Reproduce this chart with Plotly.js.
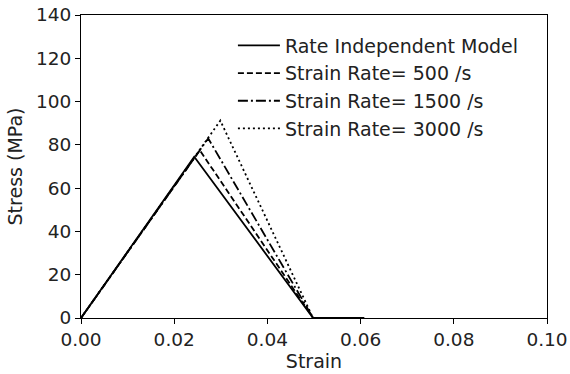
<!DOCTYPE html>
<html>
<head>
<meta charset="utf-8">
<script src="https://cdn.plot.ly/plotly-3.0.1.min.js"></script>
<style>body{margin:0;padding:0;background:#fff}#chart{width:570px;height:374px}</style>
</head>
<body>
<div id="chart"></div>
<script>
const seriesNames = ["Rate Independent Model", "Strain Rate= 500 /s", "Strain Rate= 1500 /s", "Strain Rate= 3000 /s"];
const strainRI = [0, 0.0243, 0.0498, 0.0608];
const stressRI = [0, 74.5, 0, 0];
const strain500 = [0, 0.0255, 0.0498];
const stress500 = [0, 77.5, 0];
const strain1500 = [0, 0.0273, 0.0498];
const stress1500 = [0, 83, 0];
const strain3000 = [0, 0.0299, 0.0498];
const stress3000 = [0, 91.2, 0];
const xTicks = [0, 0.02, 0.04, 0.06, 0.08, 0.10];
const xTickLabels = ["0.00", "0.02", "0.04", "0.06", "0.08", "0.10"];
const yTicks = [0, 20, 40, 60, 80, 100, 120, 140];

const FONT = "DejaVu Sans, Verdana, sans-serif";
const dashes = ["solid", "6px,3px", "10px,3px,2px,3px", "2px,3px"];
const xs = [strainRI, strain500, strain1500, strain3000];
const ys = [stressRI, stress500, stress1500, stress3000];
const traces = seriesNames.map((n, i) => ({
  x: xs[i], y: ys[i], name: n, mode: "lines", type: "scatter",
  line: {color: "#000", width: 1.8, dash: dashes[i]}
}));

const layout = {
  width: 570, height: 374,
  margin: {l: 81, r: 23, t: 15, b: 56},
  paper_bgcolor: "#fff", plot_bgcolor: "#fff",
  font: {family: FONT, size: 18.5, color: "#222"},
  showlegend: true,
  legend: {x: 0.326, y: 0.962, xanchor: "left", yanchor: "top", itemwidth: 42, tracegroupgap: 0, bgcolor: "rgba(0,0,0,0)", borderwidth: 0, font: {family: FONT, size: 19, color: "#222"}},
  xaxis: {
    range: [0, 0.10], tickvals: xTicks, ticktext: xTickLabels,
    showgrid: false, zeroline: false, showline: true, linecolor: "#000", linewidth: 1, mirror: true,
    ticks: "outside", ticklen: 5, tickcolor: "#000",
    tickfont: {family: FONT, size: 18.5, color: "#222"},
    title: {text: "Strain", font: {family: FONT, size: 19, color: "#222"}, standoff: 4}
  },
  yaxis: {
    range: [0, 140], tickvals: yTicks,
    showgrid: false, zeroline: false, showline: true, linecolor: "#000", linewidth: 1, mirror: true,
    ticks: "outside", ticklen: 5, tickcolor: "#000",
    tickfont: {family: FONT, size: 18.5, color: "#222"},
    title: {text: "Stress (MPa)", font: {family: FONT, size: 19, color: "#222"}, standoff: 8}
  }
};
Plotly.newPlot("chart", traces, layout, {displayModeBar: false, staticPlot: true});
</script>
</body>
</html>
